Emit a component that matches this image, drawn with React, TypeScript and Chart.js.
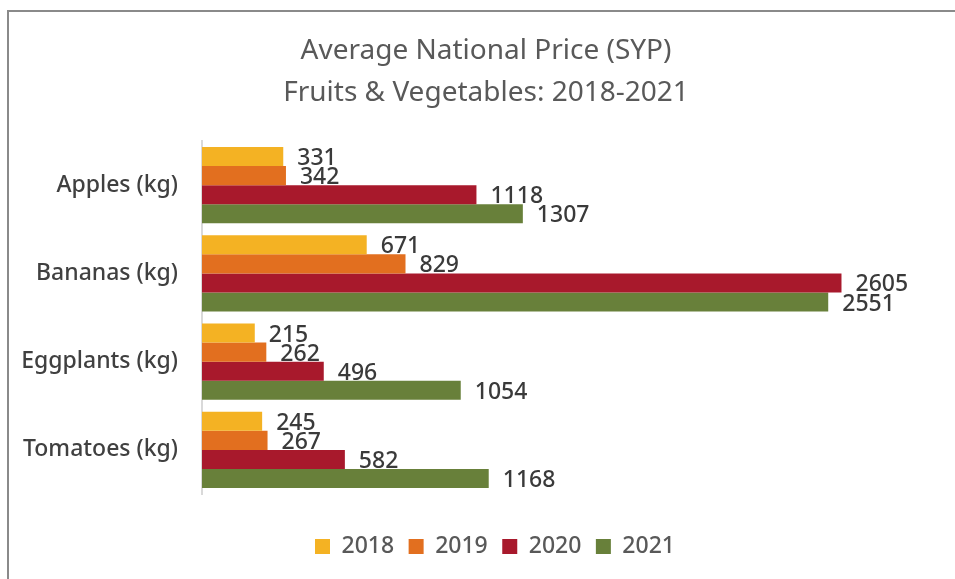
import React, { useEffect, useRef } from "react";
import { Chart, registerables } from "chart.js";

Chart.register(...registerables);

const categories = ["Apples (kg)", "Bananas (kg)", "Eggplants (kg)", "Tomatoes (kg)"];
const seriesNames = ["2018", "2019", "2020", "2021"];
const values2018 = [331, 671, 215, 245];
const values2019 = [342, 829, 262, 267];
const values2020 = [1118, 2605, 496, 582];
const values2021 = [1307, 2551, 1054, 1168];
const seriesColors = ["#F4B223", "#E26F1F", "#A8192C", "#68803A"];
const titleLines = ["Average National Price (SYP)", "Fruits & Vegetables: 2018-2021"];

const FONT = '"Noto Sans", "Open Sans", sans-serif';

const valueLabels = {
  id: "valueLabels",
  afterDatasetsDraw(chart: any) {
    const ctx = chart.ctx;
    ctx.save();
    ctx.font = `500 23px ${FONT}`;
    ctx.fillStyle = "#3a3a3a";
    ctx.textAlign = "left";
    ctx.textBaseline = "middle";
    chart.data.datasets.forEach((ds: any, di: number) => {
      const meta = chart.getDatasetMeta(di);
      meta.data.forEach((el: any, i: number) => {
        ctx.fillText(String(ds.data[i]), el.x + 14, el.y + 2);
      });
    });
    ctx.restore();
  },
};

const legendShift = {
  id: "legendShift",
  afterLayout(chart: any) {
    if (chart.legend) chart.legend.left += 18;
  },
};

export default function App() {
  const ref = useRef<HTMLCanvasElement>(null);
  useEffect(() => {
    if (!ref.current) return;
    const all = [values2018, values2019, values2020, values2021];
    const chart = new Chart(ref.current, {
      type: "bar",
      data: {
        labels: categories,
        datasets: seriesNames.map((n, i) => ({
          label: n,
          data: all[i],
          backgroundColor: seriesColors[i],
          borderWidth: 0,
          barPercentage: 1,
          categoryPercentage: 0.864,
        })),
      },
      options: {
        indexAxis: "y",
        animation: false,
        responsive: true,
        maintainAspectRatio: false,
        layout: { padding: { left: 0, right: 0, top: 0, bottom: 11 } },
        scales: {
          x: {
            min: 0,
            max: 3100,
            ticks: { display: false },
            grid: { display: false, drawTicks: false },
            border: { display: false },
            afterFit: (s: any) => {
              s.height = 26.5;
            },
          },
          y: {
            grid: { display: false, drawTicks: false },
            border: { display: true, color: "#d9d9d9", width: 2 },
            ticks: {
              color: "#404040",
              font: { family: FONT, size: 23, weight: "500" },
              padding: 24,
            },
            afterFit: (s: any) => {
              s.width = 193;
            },
          },
        },
        plugins: {
          title: {
            display: true,
            text: titleLines,
            color: "#595959",
            font: { family: FONT, size: 28, weight: "normal", lineHeight: 1.5 },
            padding: { top: 18, bottom: 27 },
          },
          legend: {
            position: "bottom",
            labels: {
              color: "#595959",
              font: { family: FONT, size: 23, weight: "500" },
              boxWidth: 15,
              boxHeight: 15,
              padding: 14.5,
            },
          },
          tooltip: { enabled: false },
        },
      },
      plugins: [valueLabels, legendShift],
    });
    return () => chart.destroy();
  }, []);

  return (
    <div style={{ position: "fixed", left: 0, top: 0, width: 955, height: 579, overflow: "hidden", background: "#fff" }}>
      <div
        style={{
          position: "absolute",
          left: 7,
          top: 10,
          width: 956,
          height: 569,
          borderLeft: "2px solid #8a8a8a",
          borderTop: "2px solid #8a8a8a",
          boxSizing: "border-box",
        }}
      >
        <div style={{ position: "relative", width: 954, height: 567 }}>
          <canvas ref={ref} />
        </div>
      </div>
    </div>
  );
}
